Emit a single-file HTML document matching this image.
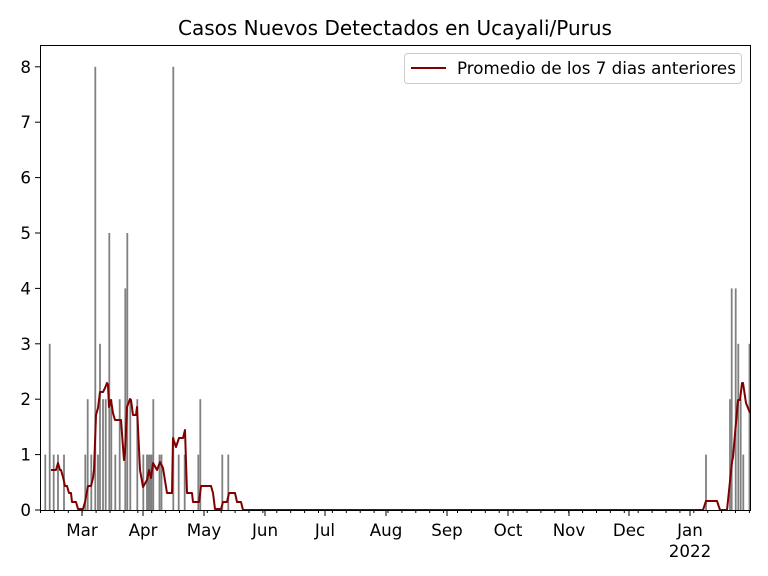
<!DOCTYPE html>
<html><head><meta charset="utf-8"><style>body{margin:0;background:#fff}svg{display:block}text{font-family:"DejaVu Sans","Liberation Sans",sans-serif}</style></head><body>
<svg width="768" height="576" xmlns="http://www.w3.org/2000/svg">
<rect width="768" height="576" fill="#fff"/>
<text x="395" y="35" font-size="20" text-anchor="middle">Casos Nuevos Detectados en Ucayali/Purus</text>
<g fill="#808080" id="bars"></g>
<polyline fill="none" stroke="#800000" stroke-width="2" stroke-linejoin="round" points="51,470 56,470 58,463 60,470 61,470 63,477 65,486 67,486 69,493 71,493 72,502 76,502 78,509 83,509 85,502 88,486 91,486 93,478 94,470 96,415 98,408 100,392 103,392 105,388 107,383 108,385 109,407 111,400 113,413 115,420 121,420 123,447 124,460 125,453 127,407 130,399 131,400 133,415 136,415 137,407 140,470 143,487 147,480 149,470 151,478 153,463 157,470 160,462 163,468 167,493 172,493 173,438 176,447 179,438 183,438 185,430 187,493 192,493 193,502 199,502 201,486 211,486 213,493 215,509 221,509 223,502 227,502 229,493 235,493 237,502 241,502 243,510 703,510 706,501 717,501 720,510 727,510 732,462 733,457 738,400 740,400 742,383 743,383 746,403 750,413"/>
<rect x="40.5" y="45.5" width="710" height="465" fill="none" stroke="#000" stroke-width="1"/>
<g stroke="#000" stroke-width="1" id="yt"></g>
<g font-size="16.7" text-anchor="end" id="yl"></g>
<g stroke="#000" id="xt"></g>
<g font-size="16.7" text-anchor="middle">
<text x="82" y="536">Mar</text><text x="143" y="536">Apr</text><text x="204" y="536">May</text><text x="265" y="536">Jun</text><text x="325" y="536">Jul</text><text x="386" y="536">Aug</text><text x="447" y="536">Sep</text><text x="508" y="536">Oct</text><text x="569" y="536">Nov</text><text x="629" y="536">Dec</text><text x="690" y="536">Jan</text><text x="690" y="557">2022</text>
</g>
<rect x="404.5" y="53.5" width="337" height="30" rx="3" fill="#fff" stroke="#ccc"/>
<line x1="411" y1="68" x2="446" y2="68" stroke="#800000" stroke-width="2"/>
<text x="457" y="74" font-size="16.7">Promedio de los 7 dias anteriores</text>
<script>
var ns="http://www.w3.org/2000/svg";
var b=[[45.3,1],[49.7,3],[53.7,1],[58,1],[64,1],[85.3,1],[87.7,2],[91.3,1],[95.3,8],[98,1],[100,3],[103,2],[105.7,2],[109.3,5],[111.3,2],[115.3,1],[119.7,2],[125.3,4],[127.3,5],[130.3,2],[137.3,2],[143.3,1],[147,1],[148.5,1],[150,1],[151.5,1],[153.3,2],[159.5,1],[161.5,1],[173.3,8],[178.7,1],[184.7,1],[198.3,1],[200.3,2],[222.3,1],[228.3,1],[706,1],[730,2],[731.7,4],[735.7,4],[738.3,3],[740.7,2],[743.3,1],[749.5,3]];
var g=document.getElementById("bars");
b.forEach(function(d){var r=document.createElementNS(ns,"rect");r.setAttribute("x",d[0]-0.9);r.setAttribute("width",1.8);r.setAttribute("y",510-d[1]*55.4);r.setAttribute("height",d[1]*55.4);g.appendChild(r);});
var yt=document.getElementById("yt"),yl=document.getElementById("yl");
for(var i=0;i<=8;i++){var y=510-i*55.4;var l=document.createElementNS(ns,"line");l.setAttribute("x1",35);l.setAttribute("x2",40);l.setAttribute("y1",y);l.setAttribute("y2",y);yt.appendChild(l);var t=document.createElementNS(ns,"text");t.setAttribute("x",31);t.setAttribute("y",y+6);t.textContent=i;yl.appendChild(t);}
var xt=document.getElementById("xt");
[82,143,204,265,325,386,447,508,569,629,690].forEach(function(x){var l=document.createElementNS(ns,"line");l.setAttribute("x1",x);l.setAttribute("x2",x);l.setAttribute("y1",511);l.setAttribute("y2",516);xt.appendChild(l);});
for(var x=40.5;x<750;x+=13.9){var l=document.createElementNS(ns,"line");l.setAttribute("x1",x);l.setAttribute("x2",x);l.setAttribute("y1",511);l.setAttribute("y2",513);xt.appendChild(l);}
</script>
</svg>
</body></html>
